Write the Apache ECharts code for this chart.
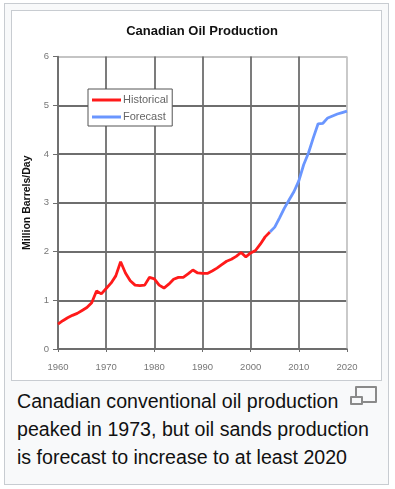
<!DOCTYPE html>
<html>
<head>
<meta charset="utf-8">
<script src="https://cdn.jsdelivr.net/npm/echarts@6/dist/echarts.min.js"></script>
<style>
  html, body { margin: 0; padding: 0; background: #ffffff; }
  body { width: 395px; height: 489px; position: relative; overflow: hidden; font-family: "Liberation Sans", Arial, sans-serif; }
  #outer { position: absolute; left: 4px; top: 3px; width: 383px; height: 480px; border: 1px solid #c8ccd1; background: #f8f9fa; }
  #inner { position: absolute; left: 11px; top: 10px; width: 369px; height: 369px; border: 1px solid #c8ccd1; background: #ffffff; }
  #chart { position: absolute; left: 0; top: 0; width: 395px; height: 489px; }
  #caption { position: absolute; left: 17px; top: 387px; width: 370px; font-size: 19.6px; line-height: 28px; color: #111; }
  .mag1 { position: absolute; left: 355px; top: 386px; width: 18px; height: 13px; border: 2px solid #8a8a8a; border-radius: 1px; }
  .mag2 { position: absolute; left: 350px; top: 396px; width: 9px; height: 5px; border: 2px solid #8a8a8a; background: #f8f9fa; border-radius: 1px; }
</style>
</head>
<body>
<div id="outer"></div>
<div id="inner"></div>
<div id="caption">Canadian conventional oil production<br>peaked in 1973, but oil sands production<br>is forecast to increase to at least 2020</div>
<div class="mag1"></div>
<div class="mag2"></div>
<div id="chart"></div>
<script>
var titleText = "Canadian Oil Production";
var yAxisName = "Million Barrels/Day";
var seriesNames = ["Historical", "Forecast"];

var historicalYears = [1960,1961,1962,1963,1964,1965,1966,1967,1968,1969,1970,1971,1972,1973,1974,1975,1976,1977,1978,1979,1980,1981,1982,1983,1984,1985,1986,1987,1988,1989,1990,1991,1992,1993,1994,1995,1996,1997,1998,1999,2000,2001,2002,2003,2004];
var historicalValues = [0.51,0.58,0.64,0.69,0.73,0.79,0.85,0.95,1.19,1.13,1.24,1.35,1.50,1.79,1.56,1.40,1.31,1.30,1.31,1.47,1.44,1.31,1.25,1.33,1.43,1.47,1.47,1.54,1.62,1.56,1.55,1.55,1.60,1.66,1.73,1.80,1.84,1.90,1.98,1.89,1.97,2.02,2.15,2.30,2.40];

var forecastYears = [2004,2005,2006,2007,2008,2009,2010,2011,2012,2013,2014,2015,2016,2017,2018,2019,2020];
var forecastValues = [2.40,2.50,2.69,2.89,3.06,3.23,3.45,3.78,4.02,4.33,4.62,4.63,4.74,4.78,4.82,4.85,4.88];

function pairs(xs, ys) { return xs.map(function (x, i) { return [x, ys[i]]; }); }

var chart = echarts.init(document.getElementById('chart'), null, { renderer: 'canvas' });
var gridColor = ['#6e6e6e','#6e6e6e','#6e6e6e','#6e6e6e','#6e6e6e','#6e6e6e','#c4c4c4'];
chart.setOption({
  backgroundColor: 'transparent',
  animation: false,
  title: {
    text: titleText, left: 197, top: 20, textAlign: 'center',
    textStyle: { fontFamily: 'Liberation Sans, Arial', fontSize: 13, fontWeight: 'bold', color: '#111' }
  },
  legend: {
    orient: 'vertical', left: 88, top: 89,
    data: [{ name: seriesNames[0], icon: 'rect' }, { name: seriesNames[1], icon: 'rect' }],
    itemWidth: 29, itemHeight: 3, itemGap: 5,
    padding: [5, 4, 3, 4],
    backgroundColor: '#ffffff', borderColor: '#555', borderWidth: 1,
    textStyle: { fontFamily: 'Liberation Sans, Arial', fontSize: 11, color: '#666', lineHeight: 12, padding: [0, 0, 0, -3] }
  },
  grid: { left: 58, right: 48, top: 56.5, bottom: 140 },
  xAxis: {
    type: 'value', min: 1960, max: 2020, interval: 10,
    axisLine: { show: true, lineStyle: { color: '#6e6e6e', width: 1.6 } },
    axisTick: { show: true, length: 3, lineStyle: { color: '#6e6e6e' } },
    axisLabel: { color: '#777', fontSize: 9.5, fontFamily: 'Liberation Sans, Arial', margin: 13, formatter: function (v) { return String(v); } },
    splitLine: { show: true, lineStyle: { color: gridColor, width: 1.8 } }
  },
  yAxis: {
    type: 'value', min: 0, max: 6, interval: 1,
    name: yAxisName, nameLocation: 'middle', nameGap: 23, nameRotate: 90,
    nameTextStyle: { fontFamily: 'Liberation Sans, Arial', fontSize: 10.5, fontWeight: 'bold', color: '#111' },
    axisLine: { show: true, lineStyle: { color: '#6e6e6e', width: 1.6 } },
    axisTick: { show: true, length: 5, lineStyle: { color: '#6e6e6e' } },
    axisLabel: { color: '#777', fontSize: 9.5, fontFamily: 'Liberation Sans, Arial', margin: 9 },
    splitLine: { show: true, lineStyle: { color: gridColor, width: 1.8 } }
  },
  series: [
    { name: seriesNames[0], type: 'line', data: pairs(historicalYears, historicalValues), showSymbol: false, symbol: 'none',
      lineStyle: { color: '#ff1a1a', width: 2.8 }, itemStyle: { color: '#ff1a1a' }, z: 3 },
    { name: seriesNames[1], type: 'line', data: pairs(forecastYears, forecastValues), showSymbol: false, symbol: 'none',
      lineStyle: { color: '#6a96ff', width: 2.8 }, itemStyle: { color: '#6a96ff' }, z: 3 }
  ]
});
</script>
</body>
</html>
